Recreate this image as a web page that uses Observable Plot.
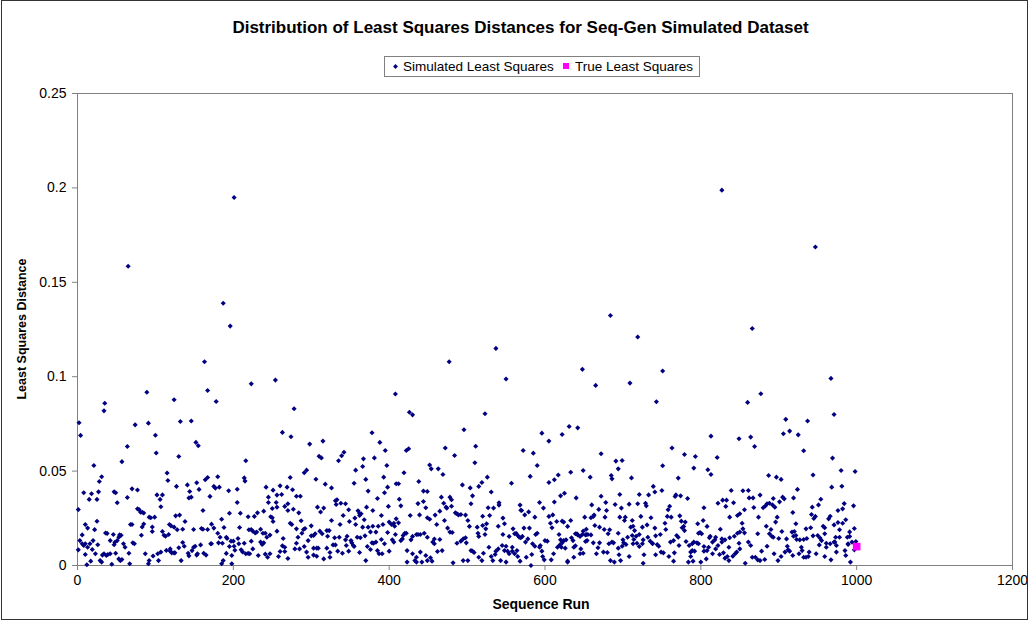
<!DOCTYPE html>
<html><head><meta charset="utf-8">
<script src="https://cdn.jsdelivr.net/npm/d3@7"></script>
<script src="https://cdn.jsdelivr.net/npm/@observablehq/plot@0.6"></script>
<style>
body{margin:0;background:#fff;}
#chart{position:relative;width:1030px;height:621px;font-family:"Liberation Sans",Arial,sans-serif;color:#000;overflow:hidden}
#chart svg{position:absolute;left:0;top:0}
#border{position:absolute;left:1px;top:0;width:1027px;height:620px;border:1px solid #333;box-sizing:border-box;pointer-events:none}
#title{position:absolute;top:18px;left:0;width:1041px;text-align:center;font-weight:bold;font-size:17px;white-space:nowrap}
#legend{position:absolute;left:384px;top:56px;width:316px;height:21px;box-sizing:border-box;border:1px solid #808080;font-size:13.5px;line-height:19px;white-space:nowrap;background:#fff}
#legend span{position:absolute;top:0}
#ytitle{position:absolute;left:22px;top:329px;transform:translate(-50%,-50%) rotate(-90deg);font-weight:bold;font-size:12.5px;white-space:nowrap}
#xtitle{position:absolute;left:541px;top:596px;transform:translateX(-50%);font-weight:bold;font-size:14px;white-space:nowrap}
</style></head>
<body>
<div id="chart">
  <div id="title">Distribution of Least Squares Distances for Seq-Gen Simulated Dataset</div>
  <div id="legend">
    <svg width="20" height="19" style="position:absolute;left:6px;top:0"><path d="M4.5,7L6.9,9.5L4.5,12L2.1,9.5Z" fill="#000080"/></svg>
    <span style="left:18px">Simulated Least Squares</span>
    <svg width="12" height="19" style="position:absolute;left:176px;top:0"><rect x="2" y="6" width="6" height="6" fill="#ff00ff"/></svg>
    <span style="left:190px">True Least Squares</span>
  </div>
  <div id="ytitle">Least Squares Distance</div>
  <div id="xtitle">Sequence Run</div>
  <div id="border"></div>
</div>
<script>
// x axis tick values (sequence run) and y axis tick values (distance)
const xTicks = [0, 200, 400, 600, 800, 1000, 1200];
const yTicks = [0, 0.05, 0.1, 0.15, 0.2, 0.25];

// Simulated least squares distances: [sequence run, distance x 1000]
const simRuns0to120 = [[2,75.6],[4,68.9],[1,29.6],[1,8.3],[3,13.2],[6,16.2],[8,38.5],[15,35],[18,38],[25,35],[27,39],[28,44.5],[31,47],[21,53],[34,81.9],[35,85.9],[10,21.7],[13,19.8],[22,19],[25,23.4],[6,11.5],[10,11.5],[8,10.6],[16,11.5],[20,13.2],[19,8.5],[13,9.7],[10,5.8],[17,2.3],[12,0.4],[23,6.2],[26,11],[29,2.6],[31,1.8],[32,5.5],[34,6.2],[36,17.2],[38,17],[37,5.3],[39,5.8],[42,6.2],[44,0.7],[42,13.2],[46,16.4],[47,11],[48,12.3],[49,6.5],[51,33.2],[47,39],[49,38.5],[51,13.2],[53,15],[54,16.2],[56,16],[53,3.5],[55,2.6],[57,3.2],[57,55],[59,11.5],[61,9.7],[64,36],[64,63],[66,6.5],[67,0.9],[68,21.7],[70,21.7],[70,40.6],[71,12],[73,11.5],[74,74.5],[77,40],[77,30],[79,29.6],[81,28.2],[82,16],[83,20.4],[83,28.2],[85,27.8],[85,22],[87,6.2],[89,91.8],[91,75.4],[92,25.6],[91,0.9],[92,2.6],[94,25.3],[96,20.4],[96,18],[97,5],[99,25.6],[100,69],[101,59.6],[102,37.4],[103,6.2],[104,2.6],[106,35],[107,31.1],[107,7.1],[109,37.4],[109,18],[111,16],[113,15.5],[114,8],[115,49],[116,45],[117,16.4],[118,21.7],[119,7.6],[65,158.5]];
const simRuns120to245 = [[124,87.8],[132,76.3],[146,76.5],[167,92.7],[178,86.9],[223,96.2],[152,65.2],[155,63.4],[130,57.7],[216,55.5],[127,41.9],[141,42.7],[144,39.2],[156,40.3],[153,43.8],[164,45.4],[167,46.6],[180,47],[175,41.9],[177,41],[182,41.5],[194,39.6],[205,40.4],[214,46.4],[215,44.7],[242,41.5],[143,35.8],[146,36.2],[170,36.6],[205,33.4],[161,29.1],[195,27.7],[209,27.7],[231,27.9],[239,28.8],[245,36.2],[126,26.3],[131,26.7],[138,23.3],[120,21],[124,20.3],[128,18.9],[135,19.2],[149,19.1],[159,19.6],[161,19.2],[167,19.1],[172,21.9],[175,19.8],[185,24.5],[188,20.1],[208,20.1],[219,25.8],[220,18.9],[223,19.1],[225,18.2],[228,17.3],[230,17.7],[227,26],[235,19.2],[238,17.1],[241,17.1],[243,15],[119,8.8],[121,6.7],[124,6.7],[125,6.7],[130,9.4],[133,2.6],[135,12.2],[137,10.2],[142,6.5],[143,5.1],[147,7.9],[149,9.7],[151,10.2],[153,5.5],[154,6.2],[158,10.9],[162,6.5],[165,5.5],[171,11.5],[172,11.5],[180,17.1],[181,12],[183,15],[186,11.8],[185,0.9],[187,2.6],[191,15],[192,14.3],[191,6.4],[195,10.1],[197,12.9],[198,0.9],[198,5.3],[200,12.9],[201,10.2],[202,8.1],[206,14.3],[207,11.5],[210,8.3],[212,7.2],[214,11.8],[216,6.2],[219,6.4],[221,6.2],[223,12.9],[225,8.8],[232,5.3],[235,12.4],[237,11.1],[239,12],[241,6],[244,4.4],[201,194.9],[187,138.9],[196,126.8],[163,107.9]];
const simRuns245to370 = [[254,98.2],[278,83],[263,70.5],[274,68.2],[298,64.3],[315,65.9],[310,57.9],[313,57],[335,55.5],[339,58.1],[342,60],[367,56.5],[357,50.5],[366,52.4],[291,49.1],[294,50.5],[273,46.6],[306,45.7],[318,43.1],[326,41.1],[355,43.6],[370,45.6],[251,39.9],[260,42.2],[269,41.5],[276,40.1],[256,37.3],[262,37.6],[281,36.7],[286,36.7],[245,33.4],[255,33.4],[270,32.7],[250,30.2],[256,30.9],[266,31.3],[270,29.1],[277,29.8],[284,27.9],[308,30.9],[316,30.4],[312,28.3],[331,34.3],[333,34.8],[332,32.3],[338,33],[344,32.7],[348,29.5],[360,29],[362,27.7],[364,27.4],[362,26.5],[248,25.8],[250,25.3],[251,23.3],[273,22.4],[275,21.7],[281,19.4],[287,23.7],[290,19.1],[292,19.6],[300,21],[300,15.7],[326,23.8],[341,26.5],[337,21.7],[349,23.3],[356,25.1],[357,21.7],[366,20.3],[368,24.2],[371,30.9],[247,16.1],[256,18.2],[264,14.3],[281,11.8],[283,15],[288,17.1],[296,13.2],[303,15.9],[305,16.8],[311,18.2],[314,16.8],[320,18.5],[323,18.5],[321,15.5],[330,14.7],[336,15],[344,13.6],[346,15.5],[345,10.6],[351,13.2],[352,12],[354,10.6],[359,15],[363,14.7],[369,15.7],[247,6.2],[258,4.8],[260,7.4],[263,10.4],[266,9.7],[266,7.4],[270,3.7],[279,8.8],[285,8.8],[291,10.1],[294,7.1],[296,4.4],[303,9.2],[307,9.2],[309,9.2],[303,5.5],[307,4.9],[316,3.5],[320,9.2],[324,6.9],[324,4.4],[328,10.9],[331,10.9],[334,7.6],[340,6.5],[348,7.6],[355,10.1],[362,6.9],[370,2.6]];
const simRuns370to495 = [[408,90.8],[426,81.2],[430,79.8],[378,70.3],[388,65.2],[395,60.9],[422,60.9],[425,61.8],[472,62.2],[484,58.3],[496,71.9],[381,57],[397,53],[419,49.1],[452,53.2],[454,51.2],[463,51.2],[469,48.2],[393,46.8],[398,41.5],[409,43.3],[412,43.3],[438,44.5],[494,42.7],[373,39.4],[394,38.5],[444,39.4],[449,39.2],[385,35.5],[413,35.1],[467,36.2],[478,36.2],[480,34.8],[437,32.8],[444,33.9],[470,33],[473,30.9],[474,30.4],[415,31.6],[399,31.3],[447,30.6],[480,31.4],[379,29.1],[390,26.5],[427,26.5],[439,26.8],[449,25.3],[452,24.5],[459,26.7],[465,28.8],[485,27.9],[487,27.4],[489,26.8],[492,27],[471,23.8],[475,19.8],[478,17.7],[481,17.5],[373,20.3],[379,20.8],[386,20.8],[392,21.7],[400,23],[403,21.7],[406,22.4],[409,24.7],[407,20.8],[412,22.6],[376,17.8],[383,17.7],[398,17.5],[408,16.4],[418,15.9],[420,17.1],[422,17.1],[415,13.2],[417,14.1],[430,15.4],[435,16.4],[437,16.4],[440,16.4],[445,17.1],[428,13.6],[449,15],[458,14],[461,21.7],[465,13.8],[390,13.8],[394,11.5],[404,13.6],[406,12.4],[378,12],[380,11.8],[383,12.4],[372,10.1],[456,12.4],[458,11.5],[492,12.9],[495,14.1],[487,11.8],[376,8.5],[385,7.9],[387,6.2],[391,6.2],[400,7.6],[423,7.9],[430,6.2],[435,4.4],[433,2.6],[435,1.8],[423,1.8],[440,7.1],[442,1.8],[447,5.3],[449,2.6],[453,4.1],[455,2.3],[462,7.4],[468,7.9],[482,1.4],[495,2.6],[477,107.9]];
const simRuns495to620 = [[523,80.4],[511,63.2],[510,54.4],[596,70.1],[605,65.9],[622,69.4],[572,60.9],[585,59.5],[590,53],[504,41.1],[515,41.9],[519,44],[526,46.8],[557,43.6],[581,47.2],[605,44],[612,45.4],[617,47.9],[531,38.9],[507,36.9],[620,36.9],[505,32.7],[541,33.2],[541,32],[568,32],[593,33.4],[612,33.6],[498,26.7],[527,30.6],[534,30.4],[520,26.1],[529,26.5],[546,25.1],[569,29.3],[570,29.1],[579,28.4],[574,26.8],[587,25.6],[598,30.4],[605,26],[610,26.8],[501,23.8],[503,20.7],[513,20.3],[525,22.1],[520,21.2],[540,20.8],[548,22.1],[559,19.4],[567,15],[573,19.8],[580,19.8],[590,17.1],[588,16.4],[607,22.4],[609,20],[615,23.3],[622,23.5],[498,14.7],[514,17.1],[515,15.4],[524,19.4],[523,16.4],[546,16.4],[554,15.4],[561,16.8],[563,17.1],[565,15.9],[569,14.7],[571,15.4],[578,14.1],[575,12.4],[584,11.5],[600,13.2],[603,12.9],[618,16.4],[620,13.6],[622,12],[499,12],[507,7.6],[509,6.9],[505,7.9],[501,2.6],[515,4.4],[519,2.6],[521,6.5],[528,9.7],[531,4.8],[533,2.6],[536,5.8],[537,7.6],[540,8.8],[543,2.6],[545,10.6],[548,7.9],[550,10.2],[552,7.6],[554,6.2],[558,9.7],[558,7.6],[561,6.2],[564,7.9],[565,4.8],[550,1.8],[568,2.3],[576,4.4],[583,5.8],[582,0],[587,10.2],[593,9.7],[594,10.6],[596,7.6],[597,4.8],[599,3],[608,3],[611,6.2],[616,9.7],[619,10.8],[621,9.7],[537,115],[550,98.8]];
const simRuns620to745 = [[665,95.4],[709,96.6],[743,86.7],[631,73.6],[642,72.9],[672,59.2],[691,55.3],[699,55.6],[694,51.2],[685,47.7],[686,45.9],[711,46.4],[649,50.3],[633,49.4],[658,46.8],[739,41.9],[741,38.9],[625,38.3],[640,35.8],[672,36.7],[696,37.6],[721,37.6],[733,37.4],[660,32.1],[678,33.4],[690,32.3],[698,30.4],[708,32.5],[719,32.7],[729,33],[730,31.6],[669,29.7],[679,29.1],[651,25.6],[659,25.3],[662,26],[663,26.7],[677,25.6],[696,25.6],[703,25.6],[702,23.8],[712,23.8],[723,26],[736,25.3],[624,23],[633,23.8],[629,20.7],[639,16.8],[649,18.2],[653,19.2],[655,16.4],[659,16.2],[664,21.2],[670,20.3],[676,19.1],[683,18.9],[681,16.8],[694,17.1],[710,20.3],[713,20.8],[715,18.5],[721,16.4],[725,20.3],[731,21.5],[741,19.8],[748,16.4],[641,16.8],[642,16.2],[645,15.4],[648,16.4],[652,16.2],[653,16.4],[624,13.2],[627,13.6],[634,14.7],[636,13.2],[652,12.7],[654,13.2],[662,12],[670,12],[682,11.5],[686,12.4],[688,12],[700,13.6],[701,12],[706,15],[712,15.9],[714,13.8],[717,15.5],[718,11.8],[726,13.6],[732,15],[735,12.9],[738,11.8],[742,15.7],[744,11.1],[626,9.2],[637,9.7],[639,10.4],[646,8.8],[649,6.5],[666,6.2],[668,9.4],[675,7.1],[680,6.9],[694,9.2],[699,10.2],[704,11.1],[713,11.5],[721,10.1],[725,11.5],[727,5.7],[738,11.5],[742,5.7],[746,10.2],[629,1.8],[629,2.3],[637,4.4],[645,6.2],[684,2.6],[689,1.8],[695,5.7],[697,2.6],[708,4.8],[726,1.2],[648,103.9],[684,132.4],[719,121],[751,103]];
const simRuns745to870 = [[860,86.4],[813,68.5],[849,67.1],[864,68],[869,63],[763,62.2],[779,58.8],[793,57.7],[821,57.2],[751,52.8],[791,51.6],[809,50.7],[813,48.2],[771,46.3],[750,39.7],[768,37.4],[767,36.6],[774,36.9],[783,35.5],[839,39.7],[854,39.6],[861,39.7],[862,35.8],[867,35.8],[822,33],[828,34.6],[833,34.6],[842,33.2],[804,30.6],[832,31.3],[760,31.4],[758,29.5],[856,29.5],[868,30.7],[757,26],[762,25.6],[773,26.3],[780,23],[775,23.5],[847,26.5],[850,27.4],[837,25.6],[874,25.6],[754,22.4],[803,23.8],[796,22.1],[808,20.7],[853,22.4],[755,19.1],[776,20],[778,20.7],[779,18.5],[825,19.2],[854,19.4],[856,17.3],[769,15.9],[771,15],[797,17.1],[799,17.5],[801,16.8],[812,15.5],[811,14.7],[819,15],[827,14.1],[837,14.7],[843,15.5],[847,17.1],[850,17.7],[873,16.8],[761,12.4],[765,13.2],[772,10.6],[781,12.7],[785,10.6],[789,11.5],[791,12.4],[795,12],[797,11.5],[804,10.1],[810,9.7],[815,12.4],[818,13.6],[822,10.6],[827,12.4],[831,13.6],[836,9.7],[849,11.8],[861,12.4],[864,10.6],[749,7.1],[752,6.7],[759,4.8],[765,2.3],[766,6.7],[784,1.8],[787,4.8],[787,7.1],[789,7.9],[790,2.3],[792,7.6],[800,1.8],[804,7.6],[807,3.5],[808,7.9],[815,6.2],[819,8.8],[824,5.8],[829,6.7],[831,3.9],[834,4.8],[836,2.6],[841,4.9],[844,6.2],[846,7.1],[850,8.8],[857,1.2],[866,4.4],[870,4.4],[873,3],[827,198.8],[866,125.5]];
const simRuns870to1000 = [[877,91],[909,77.4],[937,76.5],[971,80],[906,69.8],[914,71.2],[925,69.2],[932,60.8],[969,56.9],[887,47.7],[897,46.8],[903,45.6],[944,47.9],[980,50.3],[998,49.8],[924,40.3],[968,41.5],[981,42],[876,37.3],[893,35.5],[905,36.2],[907,35.3],[919,35.8],[954,35.1],[880,30.6],[883,31.6],[885,32.7],[888,33],[892,32.1],[895,30.9],[901,33.7],[943,30.9],[951,32.1],[984,32.8],[996,31.6],[918,28.1],[976,29.1],[982,30],[942,27],[945,24.9],[947,26],[964,24.7],[966,26.1],[896,23],[898,25.6],[971,21.5],[976,22.8],[982,22.4],[986,24.2],[884,20.8],[890,19.1],[922,22.1],[935,19.4],[941,20],[957,20.8],[959,20],[978,18.9],[997,19.6],[888,16.8],[891,15.5],[893,15],[904,18],[917,17.7],[920,18],[922,15.9],[936,14.3],[950,15.9],[953,14.5],[959,16.8],[961,11.8],[973,15],[988,15],[991,15.4],[991,17.8],[900,14.3],[910,14.1],[919,15.5],[923,13.8],[927,13.6],[932,13.8],[944,15.7],[955,13.2],[966,11.5],[971,12.4],[974,10.6],[978,15],[989,11.1],[994,12.4],[999,12.7],[876,2.6],[878,7.6],[882,3.2],[885,10.2],[894,6.2],[899,2.6],[903,4.8],[908,7.1],[911,10.2],[912,8.3],[914,7.6],[918,5.3],[926,6.2],[929,9.7],[930,7.9],[932,4.4],[935,4.4],[938,4.8],[939,7.1],[948,6.2],[952,10.9],[959,4.8],[961,9.7],[967,3],[972,12.4],[974,7.1],[985,7.9],[986,5.3],[989,11.5],[992,1.8],[997,8.3],[947,168.7],[967,99.1]];

// True least squares distance
const trueRun = [1000];
const trueDistance = [0.0100];

const simulated = [simRuns0to120, simRuns120to245, simRuns245to370, simRuns370to495,
  simRuns495to620, simRuns620to745, simRuns745to870, simRuns870to1000]
  .flat().map(([run, milli]) => ({run, value: milli / 1000}));
const trueData = trueRun.map((run, i) => ({run, value: trueDistance[i]}));

const chart = Plot.plot({
  width: 1030, height: 621,
  marginLeft: 77, marginRight: 18, marginTop: 93, marginBottom: 56,
  style: {fontFamily: "'Liberation Sans', Arial, sans-serif", fontSize: "14px", color: "#000", background: "transparent", overflow: "visible"},
  x: {domain: [0, 1200]},
  y: {domain: [0, 0.25]},
  marks: [
    Plot.frame({stroke: "#808080"}),
    Plot.axisX({ticks: xTicks, tickFormat: d3.format("d"), tickSize: 5, tickPadding: 5, stroke: "#808080", fill: "#000", label: null, fontSize: 14}),
    Plot.axisY({ticks: yTicks, tickFormat: d => String(d), tickSize: 5, tickPadding: 6, stroke: "#808080", fill: "#000", label: null, fontSize: 14}),
    Plot.dot(simulated, {x: "run", y: "value", symbol: "diamond2", r: 2.3, fill: "#000080", stroke: "none"}),
    Plot.dot(trueData, {x: "run", y: "value", symbol: "square", r: 4.3, fill: "#ff00ff", stroke: "none"})
  ]
});
document.getElementById("chart").prepend(chart);
</script>
</body></html>
